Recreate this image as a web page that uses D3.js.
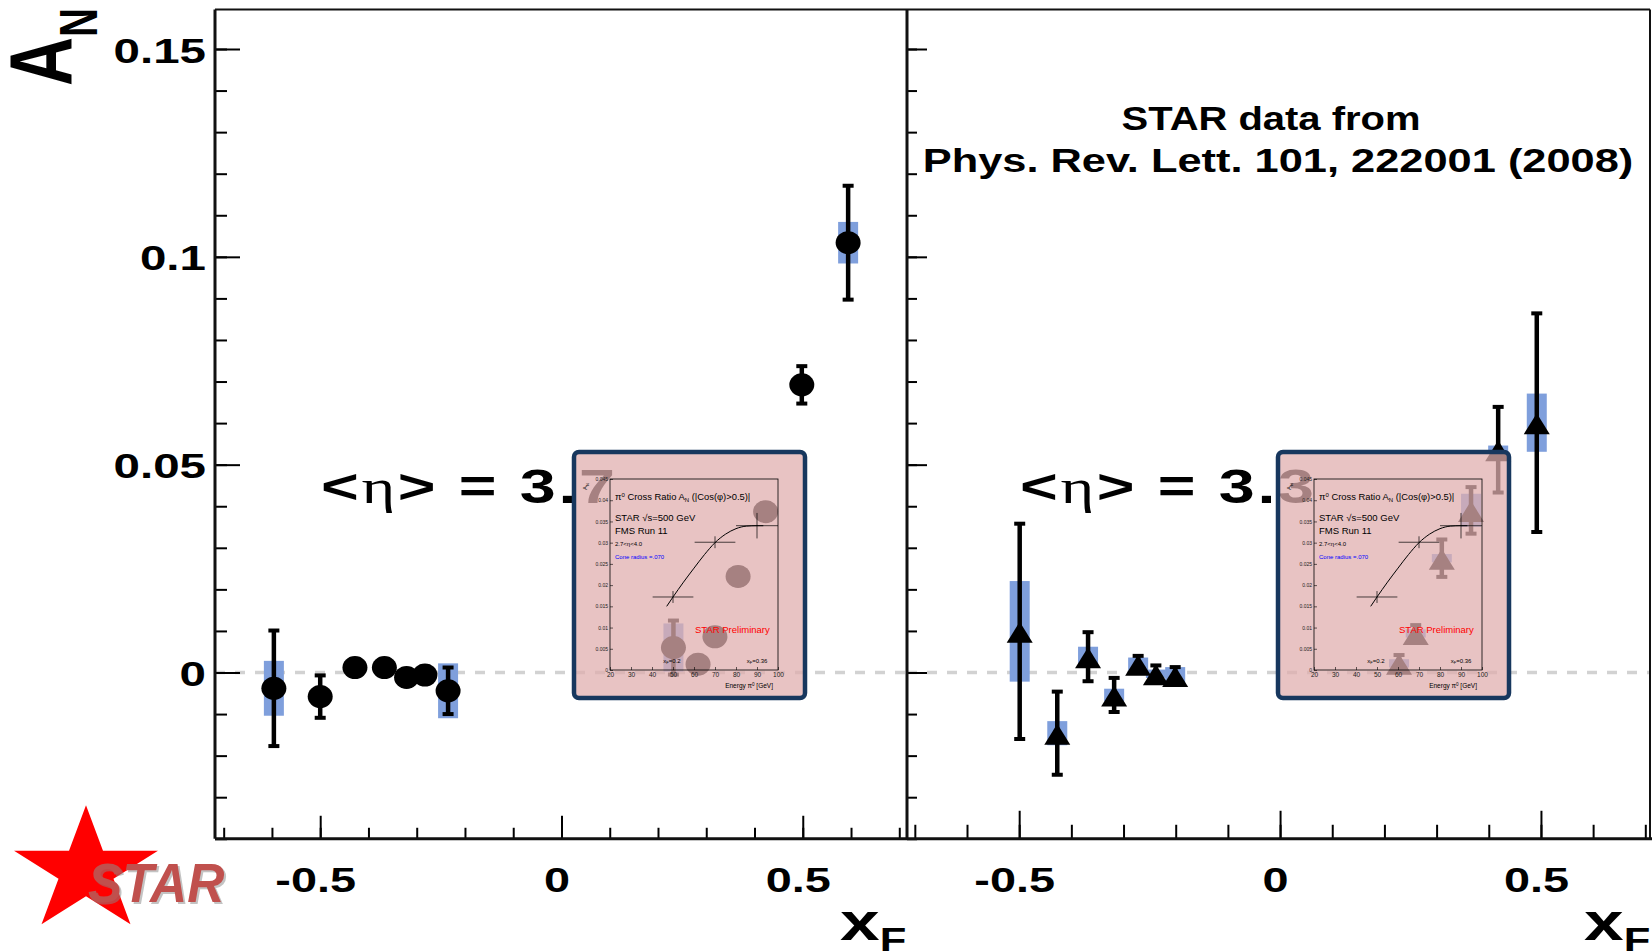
<!DOCTYPE html>
<html>
<head>
<meta charset="utf-8">
<script src="https://cdn.jsdelivr.net/npm/d3@7"></script>
<style>
	html, body { margin: 0; padding: 0; background: #fff; }
	svg { display: block; }
</style>
</head>
<body>
<div id="chart"></div>
<script>
"use strict";

//  Main axes
const yTickValues = [0, 0.05, 0.1, 0.15];
const yTickLabels = ['0', '0.05', '0.1', '0.15'];
const xTickValues = [-0.5, 0, 0.5];
const xTickLabels = ['-0.5', '0', '0.5'];

//  Left panel (<eta> = 3.7), circles
const leftXF   = [-0.596, -0.500, -0.428, -0.367, -0.321, -0.283, -0.235, 0.232, 0.283, 0.318, 0.366, 0.423, 0.498, 0.594];
const leftAN   = [-0.0038, -0.0058, 0.0012, 0.0012, -0.0012, -0.0006, -0.0044, 0.0060, 0.0020, 0.0086, 0.0231, 0.0387, 0.0692, 0.1034];
const leftStat = [0.0139, 0.0051, 0.0020, 0.0020, 0.0020, 0.0020, 0.0056, 0.0065, 0.0020, 0.0020, 0.0020, 0.0020, 0.0045, 0.0137];
const leftSys  = [0.0066, 0.0010, 0.0010, 0.0010, 0.0010, 0.0010, 0.0066, 0.0058, 0.0010, 0.0010, 0.0010, 0.0010, 0.0010, 0.0050];

//  Right panel (<eta> = 3.3), triangles
const rightXF   = [-0.499, -0.427, -0.368, -0.318, -0.272, -0.238, -0.201, 0.228, 0.260, 0.310, 0.366, 0.418, 0.492];
const rightAN   = [0.0099, -0.0146, 0.0038, -0.0054, 0.0020, -0.0003, -0.0007, 0.0022, 0.0094, 0.0275, 0.0390, 0.0536, 0.0601];
const rightStat = [0.0259, 0.0100, 0.0059, 0.0041, 0.0020, 0.0020, 0.0020, 0.0020, 0.0020, 0.0045, 0.0056, 0.0103, 0.0263];
const rightSys  = [0.0121, 0.0029, 0.0024, 0.0015, 0.0016, 0.0010, 0.0020, 0.0010, 0.0010, 0.0010, 0.0040, 0.0010, 0.0070];

//  Inset (FMS Run 11 cross ratio)
const insetEnergy    = [50, 70, 90];
const insetAN        = [0.0172, 0.0301, 0.0340];
const insetEnergyErr = [9.7, 9.7, 10];
const insetANErr     = [0.0014, 0.0014, 0.0030];
const insetFitE      = [47, 50, 55, 60, 65, 70, 75, 80, 85, 90, 93];
const insetFitAN     = [0.0150, 0.0172, 0.0207, 0.0240, 0.0272, 0.0300, 0.0320, 0.0333, 0.0339, 0.0340, 0.0340];
const insetXTicks    = [20, 30, 40, 50, 60, 70, 80, 90, 100];
const insetYTicks    = [0, 0.005, 0.01, 0.015, 0.02, 0.025, 0.03, 0.035, 0.04, 0.045];

const W = 1652, H = 951;
const stretch = 1.32;   // the slide is stretched horizontally
const sans = "'Liberation Sans', Arial, Helvetica, sans-serif";
const serif = "'Liberation Serif', 'DejaVu Serif', serif";
const boxBlue = '#7f9fdc';

const svg = d3.select('#chart').append('svg')
	.attr('width', W)
	.attr('height', H)
	.attr('viewBox', [0, 0, W, H]);

const y = d3.scaleLinear().domain([0, 0.15]).range([672.5, 49]);
const plotTop = y(0.1595), plotBottom = y(-0.04);

const yMinor = d3.range(-4, 16).map(i => i / 100);
const xMinor = d3.range(-7, 8).map(i => i / 10);

const panels = [
	{
		x: d3.scaleLinear().domain([-0.718, 0.716]).range([215, 907]),
		xF: leftXF, an: leftAN, stat: leftStat, sys: leftSys,
		marker: 'circle', eta: '3.7', etaX: 321,
		yMajor: 25, yMinor: 12, xMajor: 23, xMinor: 11,
		yLabels: true, inset: [572, 450], xTitle: 840
	},
	{
		x: d3.scaleLinear().domain([-0.715, 0.709]).range([907, 1650]),
		xF: rightXF, an: rightAN, stat: rightStat, sys: rightSys,
		marker: 'triangle', eta: '3.3', etaX: 1020,
		yMajor: 20, yMinor: 10, xMajor: 28, xMinor: 14,
		yLabels: false, inset: [1276, 450], xTitle: 1584
	}
];

function styleText(sel, size, weight)
{
	return sel
		.style('font-family', sans)
		.style('font-size', size + 'px')
		.style('font-weight', weight || 'normal');
}

function drawInset(parent, ox, oy)
{
	let g = parent.append('g').attr('transform', `translate(${ox},${oy})`);

	g.append('rect')
		.attr('x', 2).attr('y', 2)
		.attr('width', 231).attr('height', 246)
		.attr('rx', 5)
		.attr('fill', 'rgb(224,174,174)')
		.attr('fill-opacity', 0.74)
		.attr('stroke', '#17375e')
		.attr('stroke-width', 4.5);

	const xi = d3.scaleLinear().domain([20, 100]).range([38, 206]);
	const yi = d3.scaleLinear().domain([0, 0.045]).range([220, 29]);

	g.append('g')
		.attr('transform', 'translate(38,0)')
		.call(d3.axisLeft(yi).tickValues(insetYTicks).tickSizeInner(-3).tickSizeOuter(0).tickPadding(2)
			.tickFormat(d => d === 0 ? '0' : d3.format('~g')(d)))
		.call(a => a.select('.domain').remove())
		.call(a => a.selectAll('line').attr('stroke', '#000').attr('stroke-width', 0.6))
		.call(a => styleText(a.selectAll('text'), 5).attr('fill', '#222'));

	g.append('g')
		.attr('transform', 'translate(0,220)')
		.call(d3.axisBottom(xi).tickValues(insetXTicks).tickSizeInner(-3).tickSizeOuter(0).tickPadding(2))
		.call(a => a.select('.domain').remove())
		.call(a => a.selectAll('line').attr('stroke', '#000').attr('stroke-width', 0.6))
		.call(a => styleText(a.selectAll('text'), 6.5).attr('fill', '#222'));

	g.append('rect')
		.attr('x', 38).attr('y', 29)
		.attr('width', 168).attr('height', 191)
		.attr('fill', 'none')
		.attr('stroke', '#000')
		.attr('stroke-width', 0.8);

	const pts = d3.zip(insetEnergy, insetAN, insetEnergyErr, insetANErr)
		.map(([e, an, ee, ae]) => ({ e, an, ee, ae }));

	g.selectAll('.hx').data(pts).join('line')
		.attr('x1', d => xi(d.e - d.ee)).attr('x2', d => xi(d.e + d.ee))
		.attr('y1', d => yi(d.an)).attr('y2', d => yi(d.an))
		.attr('stroke', '#000').attr('stroke-width', 0.7);
	g.selectAll('.hy').data(pts).join('line')
		.attr('x1', d => xi(d.e)).attr('x2', d => xi(d.e))
		.attr('y1', d => yi(d.an - d.ae)).attr('y2', d => yi(d.an + d.ae))
		.attr('stroke', '#000').attr('stroke-width', 0.7);

	g.append('path')
		.datum(d3.zip(insetFitE, insetFitAN))
		.attr('d', d3.line().x(d => xi(d[0])).y(d => yi(d[1])).curve(d3.curveMonotoneX))
		.attr('fill', 'none')
		.attr('stroke', '#000')
		.attr('stroke-width', 1);

	let t = styleText(g.append('text').attr('x', 43).attr('y', 50.3), 9.4);
	t.append('tspan').text('π');
	t.append('tspan').attr('dy', -3.5).style('font-size', '6px').text('0');
	t.append('tspan').attr('dy', 3.5).text(' Cross Ratio A');
	t.append('tspan').attr('dy', 2).style('font-size', '6px').text('N');
	t.append('tspan').attr('dy', -2).text(' (|Cos(φ)>0.5)|');

	styleText(g.append('text').attr('x', 43).attr('y', 71), 9.5).text('STAR  √s=500 GeV');
	styleText(g.append('text').attr('x', 43).attr('y', 84), 9.5).text('FMS Run 11');
	styleText(g.append('text').attr('x', 43).attr('y', 96), 6).text('2.7<η<4.0');
	styleText(g.append('text').attr('x', 43).attr('y', 109.3), 6).attr('fill', '#0000ff').text('Cone radius =.070');
	styleText(g.append('text').attr('x', 123).attr('y', 182.7), 9.5).attr('fill', '#ff0000').text('STAR Preliminary');

	[[91.3, '0.2'], [174.7, '0.36']].forEach(([px, v]) =>
	{
		let s = styleText(g.append('text').attr('x', px).attr('y', 212.7), 6);
		s.append('tspan').text('x');
		s.append('tspan').attr('dy', 1.5).style('font-size', '4px').text('F');
		s.append('tspan').attr('dy', -1.5).text('=' + v);
	});

	let e = styleText(g.append('text').attr('x', 201).attr('y', 238.3).attr('text-anchor', 'end'), 6.5);
	e.append('tspan').text('Energy π');
	e.append('tspan').attr('dy', -2.5).style('font-size', '4.5px').text('0');
	e.append('tspan').attr('dy', 2.5).text(' [GeV]');

	let an = styleText(g.append('text').attr('transform', 'translate(15,40) rotate(-90)'), 6);
	an.append('tspan').text('A');
	an.append('tspan').attr('dy', 1.5).style('font-size', '4px').text('N');
}

panels.forEach(p =>
{
	const x = p.x;
	let g = svg.append('g');

	//  zero line
	g.append('line')
		.attr('x1', x.range()[0]).attr('x2', x.range()[1])
		.attr('y1', y(0)).attr('y2', y(0))
		.attr('stroke', '#d2d2d2')
		.attr('stroke-width', 3.5)
		.attr('stroke-dasharray', '10,10');

	const pts = d3.zip(p.xF, p.an, p.stat, p.sys).map(([xf, an, st, sy]) => ({ xf, an, st, sy }));

	g.selectAll('.sys').data(pts).join('rect')
		.attr('x', d => x(d.xf) - 10)
		.attr('width', 20)
		.attr('y', d => y(d.an + d.sy))
		.attr('height', d => y(d.an - d.sy) - y(d.an + d.sy))
		.attr('fill', boxBlue);

	g.selectAll('.err').data(pts).join('line')
		.attr('x1', d => x(d.xf)).attr('x2', d => x(d.xf))
		.attr('y1', d => y(d.an + d.st)).attr('y2', d => y(d.an - d.st))
		.attr('stroke', '#000').attr('stroke-width', 4.5);

	g.selectAll('.cap').data(pts.flatMap(d => [{ xf: d.xf, v: d.an + d.st }, { xf: d.xf, v: d.an - d.st }])).join('line')
		.attr('x1', d => x(d.xf) - 5.5).attr('x2', d => x(d.xf) + 5.5)
		.attr('y1', d => y(d.v)).attr('y2', d => y(d.v))
		.attr('stroke', '#000').attr('stroke-width', 4);

	if (p.marker === 'circle')
		g.selectAll('.mk').data(pts).join('ellipse')
			.attr('cx', d => x(d.xf)).attr('cy', d => y(d.an))
			.attr('rx', 12.5).attr('ry', 11.5)
			.attr('fill', '#000');
	else
		g.selectAll('.mk').data(pts).join('path')
			.attr('d', 'M0,-9.5L13,11.5L-13,11.5Z')
			.attr('transform', d => `translate(${x(d.xf)},${y(d.an)})`)
			.attr('fill', '#000');

	//  y axis ticks (pointing inside)
	g.append('g')
		.attr('transform', `translate(${x.range()[0]},0)`)
		.call(d3.axisLeft(y).tickValues(yMinor).tickSizeInner(-p.yMinor).tickSizeOuter(0).tickFormat(''))
		.call(a => a.select('.domain').remove())
		.call(a => a.selectAll('line').attr('stroke', '#000').attr('stroke-width', 2));

	g.append('g')
		.attr('transform', `translate(${x.range()[0]},0)`)
		.call(d3.axisLeft(y).tickValues(yTickValues).tickSizeInner(-p.yMajor).tickSizeOuter(0)
			.tickFormat((d, i) => p.yLabels ? yTickLabels[i] : ''))
		.call(a => a.select('.domain').remove())
		.call(a => a.selectAll('line').attr('stroke', '#000').attr('stroke-width', 2))
		.call(a => styleText(a.selectAll('text'), 36, 'bold')
			.attr('x', null).attr('dy', null)
			.attr('fill', '#000')
			.attr('transform', `translate(-9,13) scale(${stretch},1)`));

	//  x axis ticks
	g.append('g')
		.attr('transform', `translate(0,${plotBottom})`)
		.call(d3.axisBottom(x).tickValues(xMinor).tickSizeInner(-p.xMinor).tickSizeOuter(0).tickFormat(''))
		.call(a => a.select('.domain').remove())
		.call(a => a.selectAll('line').attr('stroke', '#000').attr('stroke-width', 2));

	g.append('g')
		.attr('transform', `translate(0,${plotBottom})`)
		.call(d3.axisBottom(x).tickValues(xTickValues).tickSizeInner(-p.xMajor).tickSizeOuter(0)
			.tickFormat((d, i) => xTickLabels[i]))
		.call(a => a.select('.domain').remove())
		.call(a => a.selectAll('line').attr('stroke', '#000').attr('stroke-width', 2))
		.call(a => styleText(a.selectAll('text'), 35.5, 'bold')
			.attr('y', null).attr('dy', null)
			.attr('fill', '#000')
			.attr('transform', `translate(-5,${892 - plotBottom}) scale(${stretch},1)`));

	//  <eta> label
	let eta = styleText(g.append('text').attr('transform', `translate(${p.etaX},503) scale(${stretch},1)`), 49, 'bold')
		.style('letter-spacing', '2px');
	eta.append('tspan').text('<');
	eta.append('tspan').style('font-family', serif).style('font-weight', 'normal').text('η');
	eta.append('tspan').text('> = ' + p.eta);

	//  x title
	let xt = styleText(svg.append('text').attr('transform', `translate(${p.xTitle},940) scale(${stretch},1)`), 54, 'bold');
	xt.append('tspan').text('x');
	xt.append('tspan').attr('dy', 11).style('font-size', '33px').text('F');

	drawInset(svg, p.inset[0], p.inset[1]);
});

//  Frame
const frame = svg.append('g').attr('stroke', '#111');
frame.append('line').attr('x1', 215).attr('x2', 215).attr('y1', plotTop).attr('y2', plotBottom).attr('stroke-width', 3);
frame.append('line').attr('x1', 907).attr('x2', 907).attr('y1', plotTop).attr('y2', plotBottom).attr('stroke-width', 3);
frame.append('line').attr('x1', 1650).attr('x2', 1650).attr('y1', plotTop).attr('y2', plotBottom).attr('stroke-width', 2);
frame.append('line').attr('x1', 215).attr('x2', 1650).attr('y1', plotTop).attr('y2', plotTop).attr('stroke-width', 2);
frame.append('line').attr('x1', 215).attr('x2', W).attr('y1', plotBottom).attr('y2', plotBottom).attr('stroke-width', 3);

//  y title
let yt = styleText(svg.append('text').attr('transform', `translate(72,86) scale(${stretch},1) rotate(-90)`), 68, 'bold');
yt.append('tspan').text('A');
yt.append('tspan').attr('dy', 19).style('font-size', '40px').text('N');

//  Reference note
styleText(svg.append('text').attr('text-anchor', 'middle')
	.attr('transform', 'translate(1271,130) scale(1.23,1)'), 32.5, 'bold')
	.text('STAR data from');
styleText(svg.append('text').attr('text-anchor', 'middle')
	.attr('transform', 'translate(1278,172) scale(1.335,1)'), 32.5, 'bold')
	.text('Phys. Rev. Lett. 101, 222001 (2008)');

//  STAR logo
svg.append('path')
	.attr('d', d3.symbol(d3.symbolStar, 4860)())
	.attr('transform', 'translate(86,871) scale(1.15,1)')
	.attr('fill', '#ff0000');
styleText(svg.append('text').attr('transform', 'translate(90,904) scale(0.92,1)'), 56, 'bold')
	.style('font-style', 'italic')
	.attr('fill', '#888').attr('fill-opacity', 0.5)
	.text('STAR');
styleText(svg.append('text').attr('transform', 'translate(88,902) scale(0.92,1)'), 56, 'bold')
	.style('font-style', 'italic')
	.attr('fill', '#c0504d')
	.text('STAR');
</script>
</body>
</html>
